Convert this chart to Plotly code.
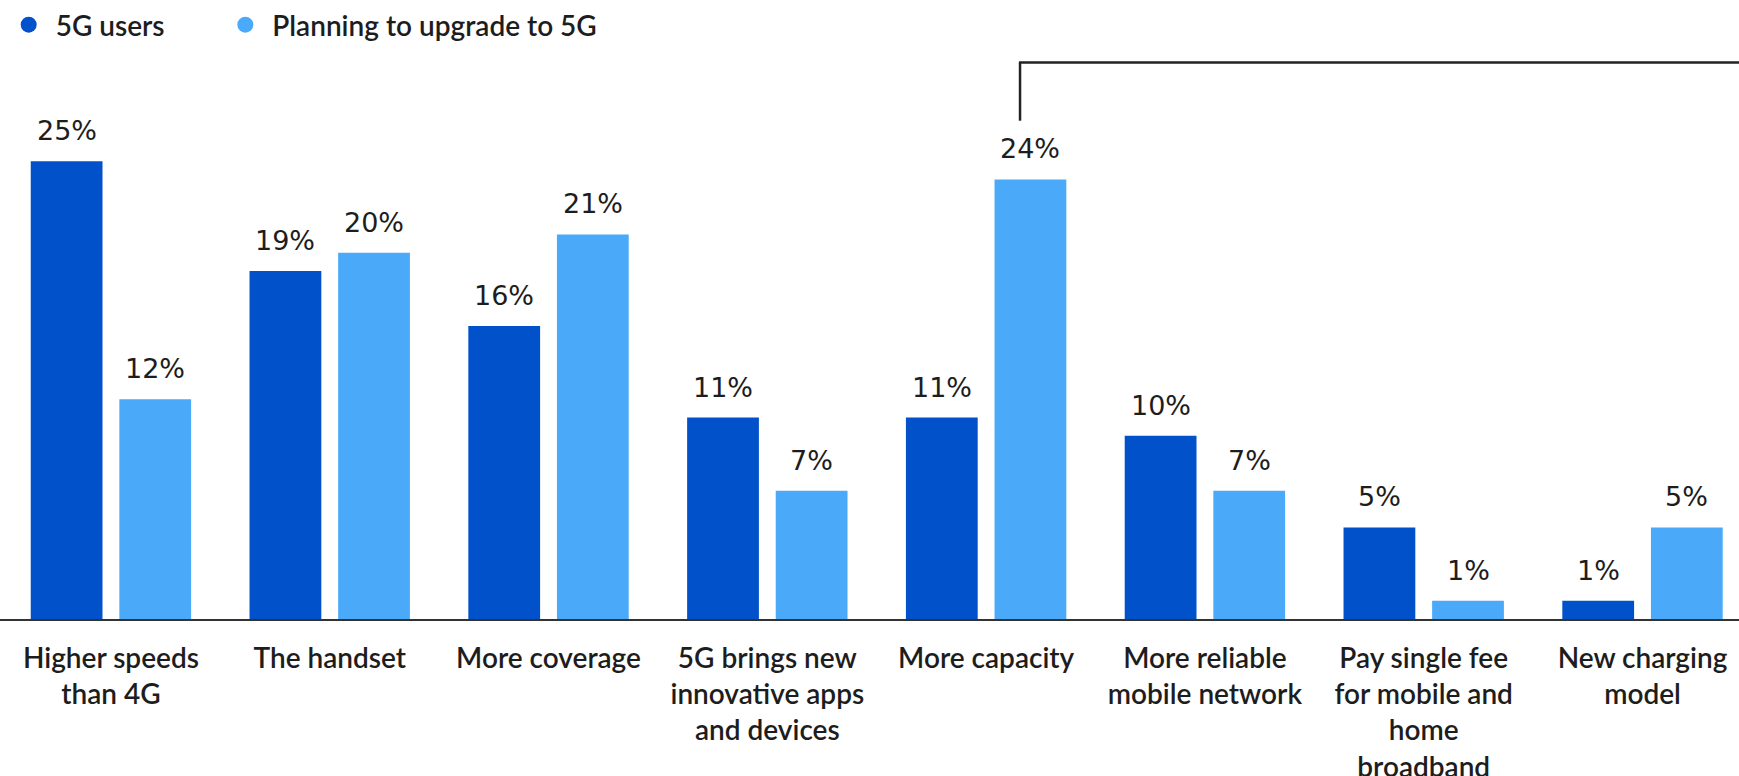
import plotly.graph_objects as go

# Reasons for choosing / planning to choose 5G
categories = [
    "Higher speeds<br>than 4G",
    "The handset",
    "More coverage",
    "5G brings new<br>innovative apps<br>and devices",
    "More capacity",
    "More reliable<br>mobile network",
    "Pay single fee<br>for mobile and<br>home<br>broadband",
    "New charging<br>model",
]
users_5g = [25, 19, 16, 11, 11, 10, 5, 1]
planning_5g = [12, 20, 21, 7, 24, 7, 1, 5]

series_names = ["5G users", "Planning to upgrade to 5G"]
DARK = "#0051CA"
LIGHT = "#4BA9FA"
TEXT = "#1d1d1d"

BARGAP = 0.19
BARGROUPGAP = 0.19

fig = go.Figure()

fig.add_trace(go.Bar(x=categories, y=users_5g, name=series_names[0],
                     marker=dict(color=DARK, line=dict(width=0)), showlegend=False))
fig.add_trace(go.Bar(x=categories, y=planning_5g, name=series_names[1],
                     marker=dict(color=LIGHT, line=dict(width=0)), showlegend=False))

# circular legend markers (padding spaces widen the gap between entries)
for name, col in zip(series_names, [DARK, LIGHT]):
    fig.add_trace(go.Scatter(x=[None], y=[None], mode="markers",
                             name="\u00a0" + name + "\u00a0" * 8,
                             marker=dict(color=col, size=20, symbol="circle"),
                             showlegend=True, hoverinfo="skip"))

# value labels above each bar
half = (1 - BARGAP) / 4
annotations = []
for i, (u, p) in enumerate(zip(users_5g, planning_5g)):
    for off, v in ((-half, u), (half, p)):
        annotations.append(dict(
            x=i + off, y=v, xref="x", yref="y", text=f"{v}%", showarrow=False,
            yanchor="bottom", yshift=13,
            font=dict(family="DejaVu Sans", size=27, color=TEXT)))

# bracket above "More capacity"
BRACKET_X = 4.155
shapes = [
    dict(type="line", xref="x", yref="paper", x0=BRACKET_X, x1=BRACKET_X,
         y0=0.805, y1=0.899, line=dict(color="#222222", width=2.5)),
    dict(type="line", xref="x", yref="paper", x0=BRACKET_X - 0.005, x1=7.7,
         y0=0.899, y1=0.899, line=dict(color="#222222", width=2.5)),
]

fig.update_layout(
    width=1739, height=776,
    margin=dict(l=0, r=0, t=0, b=157),
    plot_bgcolor="white", paper_bgcolor="white",
    barmode="group", bargap=BARGAP, bargroupgap=BARGROUPGAP,
    annotations=annotations, shapes=shapes,
    legend=dict(orientation="h", x=0.005, y=1, xanchor="left", yanchor="top",
                font=dict(family="Lato", size=28, color=TEXT, weight=600),
                bgcolor="rgba(0,0,0,0)"),
    xaxis=dict(type="category", range=[-0.507, 7.441], showline=True,
               linecolor="#333333", linewidth=2, ticks="outside", ticklen=13,
               tickcolor="rgba(0,0,0,0)", showgrid=False, zeroline=False,
               automargin=False,
               tickfont=dict(family="Lato", size=28, color=TEXT, weight=600)),
    yaxis=dict(range=[0, 33.8], visible=False, showgrid=False, zeroline=False,
               automargin=False),
)

fig.write_html("out.html")
